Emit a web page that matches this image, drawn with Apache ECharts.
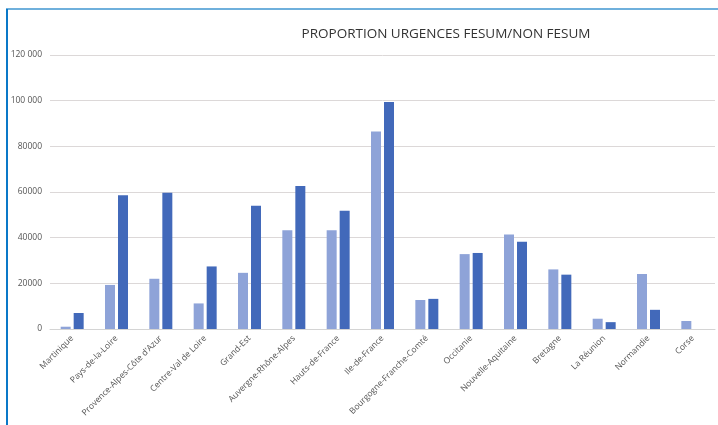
<!DOCTYPE html>
<html>
<head>
<meta charset="utf-8">
<script src="https://cdn.jsdelivr.net/npm/echarts@6/dist/echarts.min.js"></script>
<style>
  html, body { margin: 0; padding: 0; background: #ffffff; }
  #chart { width: 718px; height: 425px; }
</style>
</head>
<body>
<div id="chart"></div>
<script>
// Régions
const regions = [
  'Martinique', 'Pays-de-la-Loire', 'Provence-Alpes-Côte d\'Azur', 'Centre-Val de Loire',
  'Grand-Est', 'Auvergne-Rhône-Alpes', 'Hauts-de-France', 'Ile-de-France',
  'Bourgogne-Franche-Comté', 'Occitanie', 'Nouvelle-Aquitaine', 'Bretagne',
  'La Réunion', 'Normandie', 'Corse'
];

// Urgences FESUM
const fesum = [1000, 19300, 22000, 11200, 24600, 43200, 43200, 86500, 12700, 32800, 41400, 26100, 4500, 24100, 3500];

// Urgences non FESUM
const nonFesum = [7000, 58600, 59700, 27400, 54000, 62600, 51800, 99400, 13200, 33300, 38200, 23800, 3000, 8400, null];

// Libellés de l'axe vertical
const yTickLabels = ['0', '20000', '40000', '60000', '80000', '100 000', '120 000'];

const chart = echarts.init(document.getElementById('chart'), null, { renderer: 'canvas' });

chart.setOption({
  backgroundColor: '#ffffff',
  animation: false,
  title: {
    text: 'PROPORTION URGENCES FESUM/NON FESUM',
    left: 441,
    top: 22,
    textAlign: 'center',
    textStyle: {
      fontFamily: 'Open Sans',
      fontSize: 13.5,
      fontWeight: 'normal',
      color: '#333333'
    }
  },
  graphic: [
    { type: 'rect', shape: { x: 6, y: 8, width: 712, height: 2 }, style: { fill: '#6fb0dc' }, silent: true },
    { type: 'rect', shape: { x: 6, y: 9, width: 2, height: 416 }, style: { fill: '#0a78c8' }, silent: true }
  ],
  grid: { left: 50, right: 3, top: 55, bottom: 96 },
  xAxis: {
    type: 'category',
    data: regions,
    axisTick: { show: false },
    axisLine: { lineStyle: { color: '#d4d4d4', width: 1 } },
    axisLabel: {
      interval: 0,
      rotate: 45,
      margin: 8,
      fontFamily: 'Open Sans',
      fontSize: 8.5,
      color: '#555555'
    }
  },
  yAxis: {
    type: 'value',
    min: 0,
    max: 120000,
    interval: 20000,
    axisLine: { show: false },
    axisTick: { show: false },
    splitLine: { lineStyle: { color: '#dcd8d8', width: 1 } },
    axisLabel: {
      margin: 8,
      fontFamily: 'Open Sans',
      fontSize: 8.5,
      color: '#555555',
      formatter: (v) => yTickLabels[Math.round(v / 20000)]
    }
  },
  series: [
    {
      name: 'FESUM',
      type: 'bar',
      data: fesum,
      barWidth: 10,
      barGap: '30%',
      itemStyle: { color: '#8ea3d8' }
    },
    {
      name: 'NON FESUM',
      type: 'bar',
      data: nonFesum,
      barWidth: 10,
      itemStyle: { color: '#4269ba' }
    }
  ]
});
</script>
</body>
</html>
